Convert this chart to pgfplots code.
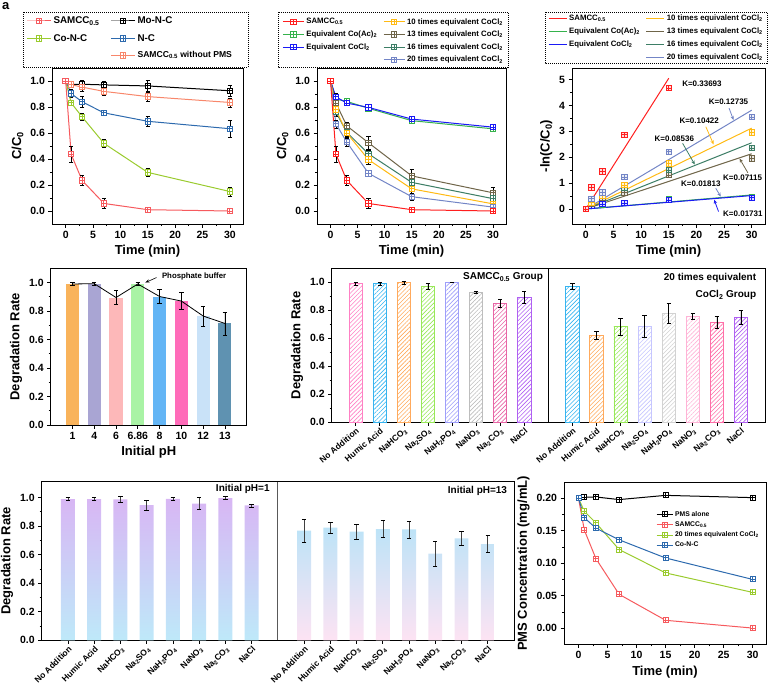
\documentclass[border=0pt]{standalone}
\usepackage{fontspec}
\setmainfont{Liberation Sans}
\usepackage{pgfplots}
\pgfplotsset{compat=1.18}
\usetikzlibrary{patterns,patterns.meta,arrows.meta}

\newcommand\bfs[1]{\fontsize{#1}{#1}\selectfont\bfseries}

\pgfdeclareplotmark{boxplus}{%
  \pgfpathrectangle{\pgfqpoint{-\pgfplotmarksize}{-\pgfplotmarksize}}{\pgfqpoint{2\pgfplotmarksize}{2\pgfplotmarksize}}%
  \pgfusepathqfillstroke
  \pgfpathmoveto{\pgfqpoint{-\pgfplotmarksize}{0pt}}\pgfpathlineto{\pgfqpoint{\pgfplotmarksize}{0pt}}%
  \pgfpathmoveto{\pgfqpoint{0pt}{-\pgfplotmarksize}}\pgfpathlineto{\pgfqpoint{0pt}{\pgfplotmarksize}}%
  \pgfusepathqstroke}

\definecolor{aRed}{HTML}{F65A5E}
\definecolor{aGreen}{HTML}{9ACB2E}
\definecolor{aBlue}{HTML}{2D6AAE}
\definecolor{aCoral}{HTML}{F8876B}
\definecolor{bRed}{HTML}{FF1F1F}
\definecolor{bGreen}{HTML}{35B24C}
\definecolor{bBlue}{HTML}{1A1AF5}
\definecolor{bGold}{HTML}{FFBA14}
\definecolor{bBrown}{HTML}{6F6549}
\definecolor{bTeal}{HTML}{3D7E66}
\definecolor{bSlate}{HTML}{7385C6}
\definecolor{dOrange}{HTML}{F9B35B}
\definecolor{dLav}{HTML}{A9A5D3}
\definecolor{dPink}{HTML}{FDB8B9}
\definecolor{dGreen}{HTML}{A9F3A5}
\definecolor{dBlue}{HTML}{63B5F5}
\definecolor{dMag}{HTML}{FF6BB9}
\definecolor{dLBlue}{HTML}{C9E2F8}
\definecolor{dSteel}{HTML}{5F92B1}
\definecolor{ePink}{HTML}{FF80C4}
\definecolor{eSky}{HTML}{36B4F0}
\definecolor{eOrange}{HTML}{FFAA5C}
\definecolor{eLGreen}{HTML}{98E858}
\definecolor{eLav}{HTML}{9E9EFA}
\definecolor{eGray}{HTML}{BDBDBD}
\definecolor{eRose}{HTML}{E866A6}
\definecolor{ePurple}{HTML}{B060F2}
\definecolor{eLav2}{HTML}{C6C6FF}
\definecolor{eGray2}{HTML}{D2D2D2}
\definecolor{ePink2}{HTML}{FFB3D6}
\definecolor{eRose2}{HTML}{FF6FA8}
\definecolor{fPurple}{HTML}{D8B6F4}
\definecolor{fCyan}{HTML}{BEE9F9}
\definecolor{fSky}{HTML}{BCE3F7}
\definecolor{fPink}{HTML}{FDE3F3}

\pgfplotsset{
  base/.style={
    scale only axis, anchor=north west,
    axis line style={line width=0.9pt},
    tick style={black, line width=0.7pt},
    tick align=outside, tick pos=left,
    major tick length=3.5pt, minor tick length=2pt,
    tick label style={font=\bfs{10.5}},
    label style={font=\bfs{13}},
    /pgf/number format/assume math mode=true,
  },
  ebar/.style={error bars/y dir=both, error bars/y explicit,
    error bars/error bar style={black, line width=0.6pt},
    error bars/error mark options={black, rotate=90, mark size=2.2pt, line width=0.6pt}},
  sq/.style={line width=1pt, mark=boxplus, mark size=2.7pt, mark options={fill=white, solid}},
}
\newcommand\sbar[4]{\addplot[ybar, bar width=0.6, bar shift=0pt, fill=#4, draw=none, ebar] coordinates {(#1,#2) +- (0,#3)};}
\newcommand\hatchbar[4]{\addplot[ybar, bar width=0.55, bar shift=0pt, draw=#4, line width=0.8pt, pattern={Lines[angle=45,distance=3pt,line width=0.6pt]}, pattern color=#4, ebar] coordinates {(#1,#2) +- (0,#3)};}

\begin{document}
\begin{tikzpicture}
\node[font=\bfs{13}, anchor=north west, inner sep=0pt] at (2pt,-2pt) {a};
% ---------------- panel a
\begin{axis}[base, at={(52pt,-68pt)}, width=191pt, height=156pt,
  xmin=-2.5, xmax=32.4, ymin=-0.1, ymax=1.1,
  xtick={0,5,10,15,20,25,30}, ytick={0,0.2,0.4,0.6,0.8,1.0},
  minor x tick num=1, minor y tick num=1,
  yticklabel style={/pgf/number format/.cd, fixed, fixed zerofill, precision=1},
  xlabel={Time (min)}, ylabel={C/C\textsubscript{0}},
  legend columns=2, legend cell align=left,
  legend style={at={(axis description cs:-0.15,1.355)}, anchor=north west, draw=none, fill=none,
    font=\bfs{9.8}, row sep=5pt, /tikz/every even column/.append style={column sep=9pt}},
  legend image code/.code={\draw[mark repeat=2,mark phase=2] plot coordinates {(0pt,0pt)(12pt,0pt)(24pt,0pt)};},
]
\addplot[black, sq, ebar, forget plot] coordinates {(0,1)+-(0,0.005) (1,0.975)+-(0,0.02) (3,0.975)+-(0,0.03) (7,0.97)+-(0,0.03) (15,0.962)+-(0,0.04) (30,0.925)+-(0,0.04)};
\addplot[aCoral, sq, ebar, forget plot] coordinates {(0,1)+-(0,0.005) (1,0.972)+-(0,0.02) (3,0.953)+-(0,0.03) (7,0.92)+-(0,0.03) (15,0.88)+-(0,0.035) (30,0.835)+-(0,0.035)};
\addplot[aBlue, sq, ebar, forget plot] coordinates {(0,1)+-(0,0.005) (1,0.903)+-(0,0.03) (3,0.84)+-(0,0.04) (7,0.755)+-(0,0.02) (15,0.69)+-(0,0.04) (30,0.633)+-(0,0.065)};
\addplot[aGreen, sq, ebar, forget plot] coordinates {(0,1)+-(0,0.005) (1,0.832)+-(0,0.02) (3,0.724)+-(0,0.025) (7,0.52)+-(0,0.03) (15,0.297)+-(0,0.03) (30,0.15)+-(0,0.035)};
\addplot[aRed, sq, ebar, forget plot] coordinates {(0,1)+-(0,0.005) (1,0.437)+-(0,0.06) (3,0.235)+-(0,0.04) (7,0.058)+-(0,0.04) (15,0.01)+-(0,0.008) (30,0.0)+-(0,0.003)};
\addlegendimage{aRed, sq}\addlegendentry{SAMCC\textsubscript{0.5}}
\addlegendimage{black, sq}\addlegendentry{Mo-N-C}
\addlegendimage{aGreen, sq}\addlegendentry{Co-N-C}
\addlegendimage{aBlue, sq}\addlegendentry{N-C}
\addlegendimage{empty legend}\addlegendentry{}
\addlegendimage{aCoral, sq}\addlegendentry{\bfs{8.6}SAMCC\textsubscript{0.5} without PMS}
\end{axis}
\draw[dash pattern=on 1pt off 1pt, line width=0.8pt] (23pt,-12pt) rectangle (248pt,-67pt);

% ---------------- panel b
\begin{axis}[base, at={(317pt,-68pt)}, width=189pt, height=156pt,
  xmin=-2.5, xmax=32.4, ymin=-0.1, ymax=1.1,
  xtick={0,5,10,15,20,25,30}, ytick={0,0.2,0.4,0.6,0.8,1.0},
  minor x tick num=1, minor y tick num=1,
  yticklabel style={/pgf/number format/.cd, fixed, fixed zerofill, precision=1},
  xlabel={Time (min)}, ylabel={C/C\textsubscript{0}},
  legend columns=2, legend cell align=left,
  legend style={at={(axis description cs:-0.2,1.345)}, anchor=north west, draw=none, fill=none,
    font=\bfs{7.8}, row sep=1.5pt, /tikz/every even column/.append style={column sep=4pt}},
  legend image code/.code={\draw[mark repeat=2,mark phase=2] plot coordinates {(0pt,0pt)(10.5pt,0pt)(21pt,0pt)};},
]
\addplot[bGreen, sq, ebar, forget plot] coordinates {(0,1)+-(0,0.005) (1,0.86)+-(0,0.03) (3,0.843)+-(0,0.02) (7,0.79)+-(0,0.02) (15,0.695)+-(0,0.02) (30,0.632)+-(0,0.015)};
\addplot[bBlue, sq, ebar, forget plot] coordinates {(0,1)+-(0,0.005) (1,0.878)+-(0,0.03) (3,0.83)+-(0,0.02) (7,0.797)+-(0,0.02) (15,0.707)+-(0,0.015) (30,0.645)+-(0,0.015)};
\addplot[bBrown, sq, ebar, forget plot] coordinates {(0,1)+-(0,0.005) (1,0.83)+-(0,0.03) (3,0.655)+-(0,0.03) (7,0.525)+-(0,0.05) (15,0.27)+-(0,0.05) (30,0.14)+-(0,0.04)};
\addplot[bTeal, sq, ebar, forget plot] coordinates {(0,1)+-(0,0.005) (1,0.76)+-(0,0.03) (3,0.605)+-(0,0.03) (7,0.44)+-(0,0.03) (15,0.22)+-(0,0.04) (30,0.095)+-(0,0.03)};
\addplot[bGold, sq, ebar, forget plot] coordinates {(0,1)+-(0,0.005) (1,0.78)+-(0,0.03) (3,0.6)+-(0,0.03) (7,0.395)+-(0,0.035) (15,0.17)+-(0,0.03) (30,0.055)+-(0,0.03)};
\addplot[bSlate, sq, ebar, forget plot] coordinates {(0,1)+-(0,0.005) (1,0.67)+-(0,0.03) (3,0.53)+-(0,0.03) (7,0.29)+-(0,0.015) (15,0.11)+-(0,0.03) (30,0.03)+-(0,0.02)};
\addplot[bRed, sq, ebar, forget plot] coordinates {(0,1)+-(0,0.005) (1,0.437)+-(0,0.06) (3,0.235)+-(0,0.04) (7,0.058)+-(0,0.04) (15,0.01)+-(0,0.008) (30,0.0)+-(0,0.003)};
\addlegendimage{bRed, sq}\addlegendentry{SAMCC\textsubscript{0.5}}
\addlegendimage{bGold, sq}\addlegendentry{10 times equivalent CoCl\textsubscript{2}}
\addlegendimage{bGreen, sq}\addlegendentry{Equivalent Co(Ac)\textsubscript{2}}
\addlegendimage{bBrown, sq}\addlegendentry{13 times equivalent CoCl\textsubscript{2}}
\addlegendimage{bBlue, sq}\addlegendentry{Equivalent CoCl\textsubscript{2}}
\addlegendimage{bTeal, sq}\addlegendentry{16 times equivalent CoCl\textsubscript{2}}
\addlegendimage{empty legend}\addlegendentry{}
\addlegendimage{bSlate, sq}\addlegendentry{20 times equivalent CoCl\textsubscript{2}}
\end{axis}
\draw[dash pattern=on 1pt off 1pt, line width=0.8pt] (278pt,-12pt) rectangle (508pt,-67pt);

% ---------------- panel c
\begin{axis}[base, at={(572pt,-68pt)}, width=193pt, height=156pt,
  xmin=-2.5, xmax=32.4, ymin=-0.58, ymax=5.45,
  xtick={0,5,10,15,20,25,30}, ytick={0,1,2,3,4,5},
  minor x tick num=1, minor y tick num=1,
  xlabel={Time (min)}, ylabel={-ln(C/C\textsubscript{0})},
  legend columns=2, legend cell align=left,
  legend style={at={(axis description cs:-0.14,1.365)}, anchor=north west, draw=none, fill=none,
    font=\bfs{7.8}, row sep=1.8pt, /tikz/every even column/.append style={column sep=4pt}},
  legend image code/.code={\draw plot coordinates {(0pt,0pt)(18pt,0pt)};},
]
\addplot[bRed, line width=1pt, forget plot] coordinates {(0,0) (15,5.054)};
\addplot[bSlate, line width=1pt, forget plot] coordinates {(0,0) (30,3.8205)};
\addplot[bGold, line width=1pt, forget plot] coordinates {(0,0) (30,3.1266)};
\addplot[bTeal, line width=1pt, forget plot] coordinates {(0,0) (30,2.5608)};
\addplot[bBrown, line width=1pt, forget plot] coordinates {(0,0) (30,2.1345)};
\addplot[bGreen, line width=1pt, forget plot] coordinates {(0,0) (30,0.5439)};
\addplot[bBlue, line width=1pt, forget plot] coordinates {(0,0) (30,0.5193)};
\addplot[only marks, mark=boxplus, mark size=2.7pt, bGreen, mark options={fill=bGreen!15, line width=0.8pt}, forget plot] coordinates {(0,0)(1,0.15)(3,0.17)(7,0.236)(15,0.364)(30,0.459)};
\addplot[only marks, mark=boxplus, mark size=2.7pt, bBlue, mark options={fill=bBlue!15, line width=0.8pt}, forget plot] coordinates {(0,0)(1,0.13)(3,0.186)(7,0.227)(15,0.347)(30,0.439)};
\addplot[only marks, mark=boxplus, mark size=2.7pt, bBrown, mark options={fill=bBrown!15, line width=0.8pt}, forget plot] coordinates {(0,0)(1,0.186)(3,0.423)(7,0.644)(15,1.31)(30,1.96)};
\addplot[only marks, mark=boxplus, mark size=2.7pt, bTeal, mark options={fill=bTeal!15, line width=0.8pt}, forget plot] coordinates {(0,0)(1,0.274)(3,0.503)(7,0.821)(15,1.51)(30,2.36)};
\addplot[only marks, mark=boxplus, mark size=2.7pt, bGold, mark options={fill=bGold!15, line width=0.8pt}, forget plot] coordinates {(0,0)(1,0.248)(3,0.511)(7,0.929)(15,1.77)(30,2.96)};
\addplot[only marks, mark=boxplus, mark size=2.7pt, bSlate, mark options={fill=bSlate!15, line width=0.8pt}, forget plot] coordinates {(0,0)(1,0.40)(3,0.635)(7,1.24)(15,2.21)(30,3.55)};
\addplot[only marks, mark=boxplus, mark size=2.7pt, bRed, mark options={fill=bRed!15, line width=0.8pt}, forget plot] coordinates {(0,0)(1,0.83)(3,1.45)(7,2.87)(15,4.68)};
\addlegendimage{bRed, line width=1pt}\addlegendentry{SAMCC\textsubscript{0.5}}
\addlegendimage{bGold, line width=1pt}\addlegendentry{10 times equivalent CoCl\textsubscript{2}}
\addlegendimage{bGreen, line width=1pt}\addlegendentry{Equivalent Co(Ac)\textsubscript{2}}
\addlegendimage{bBrown, line width=1pt}\addlegendentry{13 times equivalent CoCl\textsubscript{2}}
\addlegendimage{bBlue, line width=1pt}\addlegendentry{Equivalent CoCl\textsubscript{2}}
\addlegendimage{bTeal, line width=1pt}\addlegendentry{16 times equivalent CoCl\textsubscript{2}}
\addlegendimage{empty legend}\addlegendentry{}
\addlegendimage{bSlate, line width=1pt}\addlegendentry{20 times equivalent CoCl\textsubscript{2}}
\begin{scope}[font=\bfs{8}]
\node[anchor=west] at (axis cs:16.8,4.86) {K=0.33693};
\node[anchor=west] at (axis cs:21.6,4.13) {K=0.12735};
\node[anchor=west] at (axis cs:16.3,3.40) {K=0.10422};
\node[anchor=west] at (axis cs:11.8,2.71) {K=0.08536};
\node[anchor=west] at (axis cs:24.2,1.21) {K=0.07115};
\node[anchor=west] at (axis cs:16.6,0.97) {K=0.01813};
\node[anchor=west] at (axis cs:24.2,-0.17) {K=0.01731};
\end{scope}
\draw[-{Stealth[length=4pt,width=3.5pt]}, bSlate, line width=0.8pt] (axis cs:25.9,3.9) -- (axis cs:26.7,3.44);
\draw[-{Stealth[length=4pt,width=3.5pt]}, bGold, line width=0.8pt] (axis cs:21.7,3.18) -- (axis cs:23.1,2.5);
\draw[-{Stealth[length=4pt,width=3.5pt]}, bTeal, line width=0.8pt] (axis cs:17.5,2.54) -- (axis cs:19.7,1.72);
\draw[-{Stealth[length=4pt,width=3.5pt]}, bBrown, line width=0.8pt] (axis cs:29.3,1.40) -- (axis cs:27.8,1.95);
\draw[-{Stealth[length=4pt,width=3.5pt]}, bSlate, line width=0.8pt] (axis cs:23.5,0.80) -- (axis cs:24.4,0.48);
\draw[-{Stealth[length=4pt,width=3.5pt]}, bBlue, line width=0.8pt] (axis cs:24.0,-0.1) -- (axis cs:23.2,0.36);
\end{axis}
\draw[dash pattern=on 1pt off 1pt, line width=0.8pt] (545pt,-12pt) rectangle (767pt,-63pt);

% ---------------- panel d
\begin{axis}[base, at={(50.7pt,-268.3pt)}, width=196pt, height=156.7pt,
  xmin=-1, xmax=8, ymin=0, ymax=1.1,
  xtick={0,1,2,3,4,5,6,7}, xticklabels={1,4,6,6.86,8,10,12,13},
  ytick={0,0.2,0.4,0.6,0.8,1.0}, minor y tick num=1,
  yticklabel style={/pgf/number format/.cd, fixed, fixed zerofill, precision=1},
  xlabel={Initial pH}, ylabel={Degradation Rate},
]
\sbar{0}{0.99}{0.01}{dOrange}
\sbar{1}{0.992}{0.01}{dLav}
\sbar{2}{0.895}{0.05}{dPink}
\sbar{3}{0.99}{0.01}{dGreen}
\sbar{4}{0.902}{0.05}{dBlue}
\sbar{5}{0.87}{0.06}{dMag}
\sbar{6}{0.765}{0.07}{dLBlue}
\sbar{7}{0.713}{0.08}{dSteel}
\addplot[black, line width=0.8pt] coordinates {(0,0.99)(1,0.992)(2,0.895)(3,0.99)(4,0.902)(5,0.87)(6,0.765)(7,0.713)};
\node[anchor=west, font=\bfs{7.8}] at (axis cs:3.95,1.04) {Phosphate buffer};
\draw[-{Stealth[length=4pt,width=3pt]}, line width=0.6pt] (axis cs:3.86,1.035) -- (axis cs:3.35,1.0);
\end{axis}

% ---------------- panel e
\begin{axis}[base, at={(331.7pt,-268.3pt)}, width=433.3pt, height=154pt,
  xmin=-1, xmax=17, ymin=0, ymax=1.1,
  xtick={0,1,2,3,4,5,6,7,9,10,11,12,13,14,15,16},
  xticklabels={No Addition,Humic Acid,NaHCO\textsubscript{3},Na\textsubscript{2}SO\textsubscript{4},NaH\textsubscript{2}PO\textsubscript{4},NaNO\textsubscript{3},Na\textsubscript{2}CO\textsubscript{3},NaCl,No Addition,Humic Acid,NaHCO\textsubscript{3},Na\textsubscript{2}SO\textsubscript{4},NaH\textsubscript{2}PO\textsubscript{4},NaNO\textsubscript{3},Na\textsubscript{2}CO\textsubscript{3},NaCl},
  xticklabel style={rotate=40, anchor=north east, font=\bfs{8.5}, inner sep=1pt},
  ytick={0,0.2,0.4,0.6,0.8,1.0}, minor y tick num=1,
  yticklabel style={/pgf/number format/.cd, fixed, fixed zerofill, precision=1},
  ylabel={Degradation Rate},
]
\hatchbar{0}{0.99}{0.01}{ePink}
\hatchbar{1}{0.99}{0.01}{eSky}
\hatchbar{2}{0.997}{0.01}{eOrange}
\hatchbar{3}{0.972}{0.02}{eLGreen}
\hatchbar{4}{1.0}{0.002}{eLav}
\hatchbar{5}{0.927}{0.008}{eGray}
\hatchbar{6}{0.85}{0.03}{eRose}
\hatchbar{7}{0.893}{0.04}{ePurple}
\hatchbar{9}{0.972}{0.02}{eSky}
\hatchbar{10}{0.622}{0.03}{eOrange}
\hatchbar{11}{0.682}{0.06}{eLGreen}
\hatchbar{12}{0.685}{0.08}{eLav2}
\hatchbar{13}{0.78}{0.07}{eGray2}
\hatchbar{14}{0.756}{0.02}{ePink2}
\hatchbar{15}{0.715}{0.04}{eRose2}
\hatchbar{16}{0.752}{0.05}{ePurple}
\addplot[black, line width=0.9pt] coordinates {(8,0) (8,1.1)};
\node[anchor=east, font=\bfs{10}] at (axis cs:7.92,1.036) {SAMCC\textsubscript{0.5} Group};
\node[anchor=east, font=\bfs{10}] at (axis cs:16.78,1.031) {20 times equivalent};
\node[anchor=east, font=\bfs{10}] at (axis cs:16.78,0.907) {CoCl\textsubscript{2} Group};
\end{axis}

% ---------------- panel f
\begin{axis}[base, at={(41.7pt,-481.7pt)}, width=472.3pt, height=158.6pt,
  xmin=-1, xmax=17, ymin=0, ymax=1.11,
  xtick={0,1,2,3,4,5,6,7,9,10,11,12,13,14,15,16},
  xticklabels={No Addition,Humic Acid,NaHCO\textsubscript{3},Na\textsubscript{2}SO\textsubscript{4},NaH\textsubscript{2}PO\textsubscript{4},NaNO\textsubscript{3},Na\textsubscript{2}CO\textsubscript{3},NaCl,No Addition,Humic Acid,NaHCO\textsubscript{3},Na\textsubscript{2}SO\textsubscript{4},NaH\textsubscript{2}PO\textsubscript{4},NaNO\textsubscript{3},Na\textsubscript{2}CO\textsubscript{3},NaCl},
  xticklabel style={rotate=45, anchor=north east, font=\bfs{8.5}, inner sep=1pt},
  ytick={0,0.2,0.4,0.6,0.8,1.0}, minor y tick num=1,
  yticklabel style={/pgf/number format/.cd, fixed, fixed zerofill, precision=1},
  ylabel={Degradation Rate},
]
\addplot[ybar, bar width=0.53, bar shift=0pt, draw=none, top color=fPurple, bottom color=fCyan, ebar, error bars/error bar style={black!75, line width=0.6pt}] coordinates {(0,0.988)+-(0,0.01) (1,0.988)+-(0,0.01) (2,0.987)+-(0,0.02) (3,0.946)+-(0,0.033) (4,0.99)+-(0,0.01) (5,0.957)+-(0,0.042) (6,0.995)+-(0,0.01) (7,0.944)+-(0,0.01)};
\addplot[ybar, bar width=0.53, bar shift=0pt, draw=none, top color=fSky, bottom color=fPink, ebar, error bars/error bar style={black!75, line width=0.6pt}] coordinates {(9,0.767)+-(0,0.082) (10,0.788)+-(0,0.04) (11,0.76)+-(0,0.05) (12,0.779)+-(0,0.06) (13,0.776)+-(0,0.06) (14,0.606)+-(0,0.09) (15,0.713)+-(0,0.05) (16,0.674)+-(0,0.06)};
\addplot[black!65, line width=1pt] coordinates {(8,0) (8,1.11)};
\node[anchor=east, font=\bfs{10}] at (axis cs:7.82,1.058) {Initial pH=1};
\node[anchor=east, font=\bfs{10}] at (axis cs:16.87,1.044) {Initial pH=13};
\end{axis}

% ---------------- panel g
\begin{axis}[base, at={(564pt,-482.7pt)}, width=202pt, height=161.6pt,
  xmin=-2.5, xmax=32.3, ymin=-0.025, ymax=0.224,
  xtick={0,5,10,15,20,25,30}, ytick={0,0.05,0.1,0.15,0.2},
  minor x tick num=1, minor y tick num=1,
  yticklabel style={/pgf/number format/.cd, fixed, fixed zerofill, precision=2},
  xlabel={Time (min)}, ylabel={PMS Concentration (mg/mL)},
  legend cell align=left,
  legend style={at={(axis description cs:0.44,0.85)}, anchor=north west, draw=none, fill=none,
    font=\bfs{6.8}, row sep=0pt},
  legend image code/.code={\draw[mark repeat=2,mark phase=2] plot coordinates {(0pt,0pt)(8pt,0pt)(16pt,0pt)};},
]
\addplot[black, sq, mark size=2.5pt] coordinates {(0,0.200)(1,0.2015)(3,0.202)(7,0.198)(15,0.2045)(30,0.201)};
\addlegendentry{PMS alone}
\addplot[aRed, sq, mark size=2.5pt] coordinates {(0,0.2)(1,0.151)(3,0.107)(7,0.052)(15,0.012)(30,0.0)};
\addlegendentry{SAMCC\textsubscript{0.5}}
\addplot[aGreen, sq, mark size=2.5pt] coordinates {(0,0.2)(1,0.18)(3,0.162)(7,0.121)(15,0.085)(30,0.055)};
\addlegendentry{20 times equivalent CoCl\textsubscript{2}}
\addplot[aBlue, sq, mark size=2.5pt] coordinates {(0,0.2)(1,0.170)(3,0.154)(7,0.136)(15,0.108)(30,0.075)};
\addlegendentry{Co-N-C}
\end{axis}

\pgfresetboundingbox
\path[use as bounding box] (0pt,0pt) rectangle (769pt,-686pt);
\end{tikzpicture}
\end{document}
